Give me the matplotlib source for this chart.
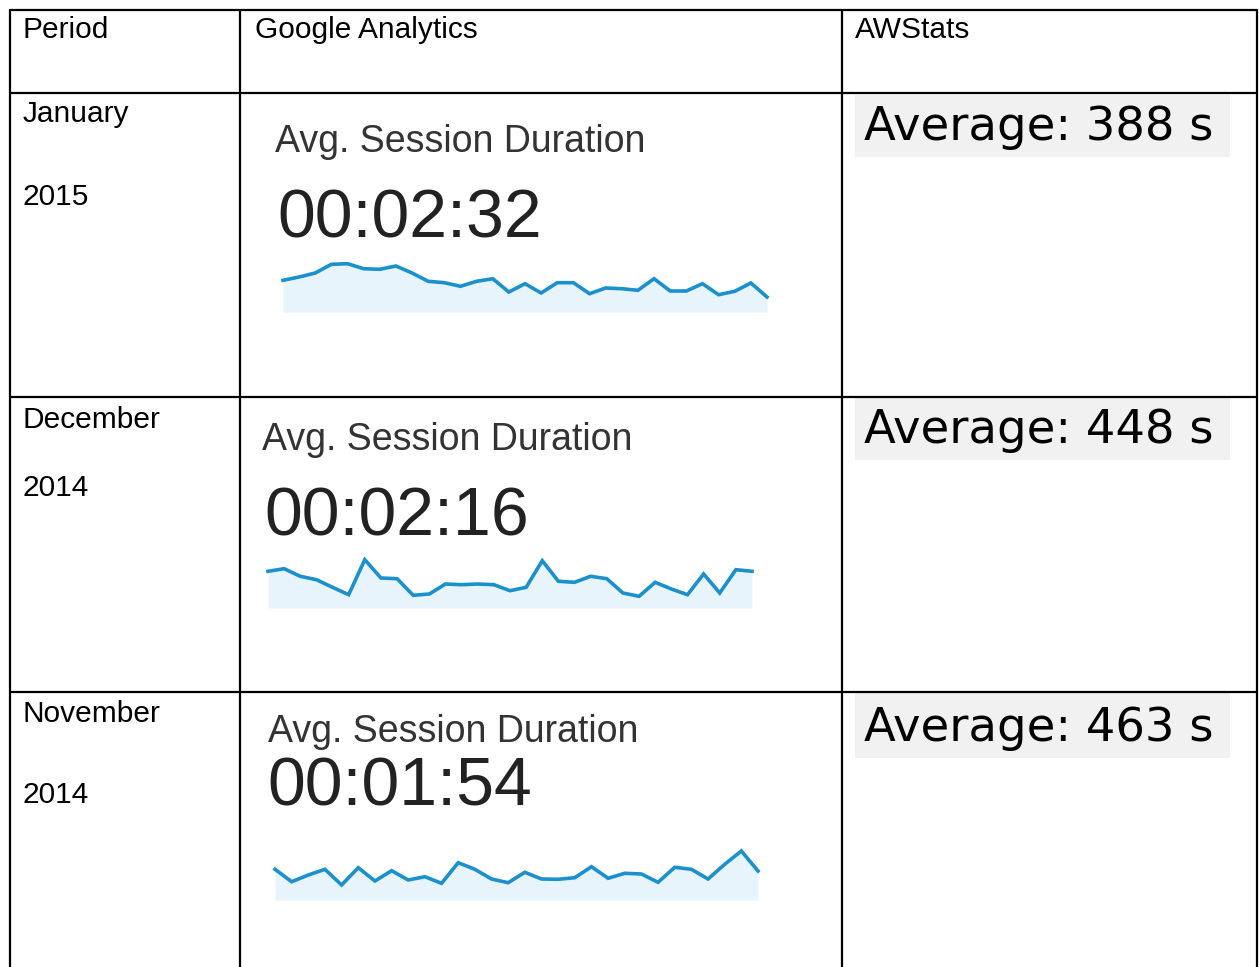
import matplotlib.pyplot as plt
import matplotlib.patches as patches

# Table text
headers = ["Period", "Google Analytics", "AWStats"]
months = ["January", "December", "November"]
years = ["2015", "2014", "2014"]
ga_durations = ["00:02:32", "00:02:16", "00:01:54"]
awstats_avg = [388, 448, 463]

# Sparkline heights (px above the baseline)
jan_2015 = [31.7, 35, 39, 47.7, 48.3, 43.3, 42.7, 46, 39, 30.7, 29.3, 25.7, 30.7, 33.3, 20, 28.3,
            19, 29.3, 29.3, 18.3, 24, 23.3, 21.7, 33.3, 21, 21, 28.3, 17.3, 20.7, 29, 15]
dec_2014 = [36.7, 39.3, 31.7, 28.3, 20.7, 13.3, 48.3, 30, 29.3, 12.7, 14, 24, 23.3, 24, 23.3, 17.3,
            20.7, 47.3, 26.7, 25.7, 31.7, 29.3, 15, 11.7, 25.7, 19, 13.3, 34, 15, 38.3, 36.7]
nov_2014 = [30.7, 18.3, 25, 30.7, 15, 32.3, 19, 29.3, 20, 23.3, 16.7, 37.3, 30.7, 21, 17.3, 27.7,
            21, 20.7, 22.3, 33.3, 21.7, 26.7, 26, 17.7, 32.7, 30.7, 21, 35.7, 49, 29]
sparks = [jan_2015, dec_2014, nov_2014]

W, H = 1259, 967
fig = plt.figure(figsize=(W / 100, H / 100), dpi=100)
ax = fig.add_axes([0, 0, 1, 1])
ax.set_xlim(0, W)
ax.set_ylim(H, 0)
ax.axis("off")

# grid of the table
col_x = [10, 240, 842, 1257]
row_y = [10, 93, 397, 692]
for x in col_x:
    ax.plot([x, x], [row_y[0] - 1, H], color="black", lw=1.6, solid_capstyle="butt")
for y in row_y:
    ax.plot([col_x[0], col_x[-1]], [y, y], color="black", lw=1.6, solid_capstyle="butt")

arial = "Liberation Sans"

# header row
for x, h in zip([23, 255, 855], headers):
    ax.text(x, 38, h, fontsize=21.5, family=arial, va="baseline", ha="left")

# per-row layout
month_base = [122, 428, 722]
year_base = [205, 496, 803]
title_pos = [(275, 152), (262, 450), (268, 742)]
num_pos = [(277, 237), (264, 535), (267, 805)]
spark_pos = [(283, 767, 312), (268, 752, 608), (275, 758, 900)]
box_y = [(95, 157), (398, 460), (693, 758)]
aw_base = [140, 443, 741]

for i in range(3):
    ax.text(23, month_base[i], months[i], fontsize=21.5, family=arial, va="baseline")
    ax.text(23, year_base[i], years[i], fontsize=21.5, family=arial, va="baseline")

    tx, ty = title_pos[i]
    ax.text(tx, ty, "Avg. Session Duration", fontsize=27, family=arial,
            color="#333333", va="baseline")
    nx, ny = num_pos[i]
    ax.text(nx, ny, ga_durations[i], fontsize=49, family=arial,
            color="#222222", va="baseline")

    # sparkline in its own axes
    x0, x1, base = spark_pos[i]
    sh = 60
    sax = fig.add_axes([x0 / W, 1 - base / H, (x1 - x0) / W, sh / H])
    vals = sparks[i]
    xs = list(range(len(vals)))
    sax.fill_between(xs, 0, vals, color="#e8f4fc", lw=0)
    sax.plot(xs, vals, color="#1a90cc", lw=2.6, solid_joinstyle="miter", clip_on=False)
    sax.set_xlim(0, len(vals) - 1)
    sax.set_ylim(0, sh)
    sax.axis("off")

    # AWStats grey box
    y0, y1 = box_y[i]
    ax.add_patch(patches.Rectangle((855, y0), 375, y1 - y0, color="#f1f1f1", lw=0))
    ax.text(864, aw_base[i], f"Average: {awstats_avg[i]} s", fontsize=33.5,
            family="DejaVu Sans", va="baseline")

fig.savefig("out.png", dpi=100)
